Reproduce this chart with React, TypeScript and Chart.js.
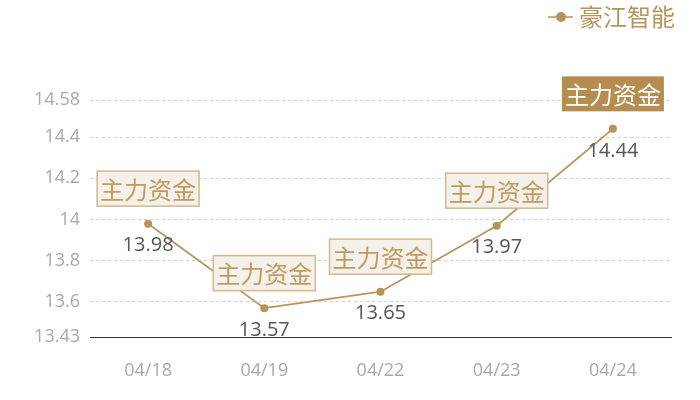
import { useEffect, useRef } from "react"
import { Chart, registerables } from "chart.js"
import type { Plugin } from "chart.js"

Chart.register(...registerables)

const categories = ["04/18", "04/19", "04/22", "04/23", "04/24"]
const prices = [13.98, 13.57, 13.65, 13.97, 14.44]
const yTicks = [13.43, 13.6, 13.8, 14, 14.2, 14.4, 14.58]
const seriesName = "豪江智能"
const flagLabels = ["主力资金", "主力资金", "主力资金", "主力资金", "主力资金"]
const flagHighlighted = [false, false, false, false, true]

const GOLD = "#b8935a"
const FONT = "'Open Sans', 'Noto Sans CJK SC', sans-serif"
const CJK_FONT = "'Noto Sans CJK SC', sans-serif"

const annotationPlugin: Plugin<"line"> = {
  id: "annotations",
  afterDatasetsDraw(chart) {
    const ctx = chart.ctx
    const meta = chart.getDatasetMeta(0)
    ctx.save()
    meta.data.forEach((pt, i) => {
      const { x, y } = pt.getProps(["x", "y"], true)

      // valeur sous le point
      ctx.font = `20px ${FONT}`
      ctx.fillStyle = "#555555"
      ctx.textAlign = "center"
      ctx.textBaseline = "middle"
      ctx.fillText(String(prices[i]), x, y + 22)

      // étiquette au-dessus
      ctx.font = `24px ${CJK_FONT}`
      const w = ctx.measureText(flagLabels[i]).width + 6
      const h = 35
      const cy = y - 35
      const left = x - w / 2
      const top = cy - h / 2
      if (flagHighlighted[i]) {
        ctx.fillStyle = "#b58e4f"
        ctx.fillRect(left, top, w, h)
        ctx.fillStyle = "#ffffff"
      } else {
        ctx.fillStyle = "#f4f0ea"
        ctx.fillRect(left, top, w, h)
        ctx.strokeStyle = "#d2b88e"
        ctx.lineWidth = 1.5
        ctx.strokeRect(left, top, w, h)
        ctx.fillStyle = "#c09a60"
      }
      ctx.fillText(flagLabels[i], x, cy + 1)
    })
    ctx.restore()
  },
  afterDraw(chart) {
    // légende en haut à droite
    const ctx = chart.ctx
    ctx.save()
    ctx.strokeStyle = GOLD
    ctx.lineWidth = 1.5
    ctx.beginPath()
    ctx.moveTo(548, 17)
    ctx.lineTo(573, 17)
    ctx.stroke()
    ctx.fillStyle = GOLD
    ctx.beginPath()
    ctx.arc(561, 17, 5, 0, Math.PI * 2)
    ctx.fill()
    ctx.font = `24px ${CJK_FONT}`
    ctx.textAlign = "left"
    ctx.textBaseline = "middle"
    ctx.fillText(seriesName, 579, 17)
    ctx.restore()
  },
}

export default function App() {
  const chartRef = useRef<HTMLCanvasElement>(null)
  const chartInstance = useRef<Chart | null>(null)

  useEffect(() => {
    if (!chartRef.current) return
    if (chartInstance.current) chartInstance.current.destroy()

    const ctx = chartRef.current.getContext("2d")
    if (!ctx) return

    chartInstance.current = new Chart(ctx, {
      type: "line",
      data: {
        labels: categories,
        datasets: [
          {
            label: seriesName,
            data: prices,
            borderColor: GOLD,
            backgroundColor: GOLD,
            borderWidth: 1.8,
            pointRadius: 4,
            pointBackgroundColor: GOLD,
            pointBorderWidth: 0,
            tension: 0,
          },
        ],
      },
      options: {
        responsive: false,
        animation: false,
        layout: {
          padding: { top: 100, right: 29, left: 0, bottom: 0 },
        },
        plugins: {
          legend: { display: false },
          tooltip: { enabled: false },
        },
        scales: {
          x: {
            offset: true,
            grid: { display: false, drawTicks: false },
            border: { display: true, color: "#333333", width: 1 },
            ticks: {
              color: "#a8a8a8",
              font: { family: FONT, size: 18 },
              padding: 23,
            },
            afterFit: (scale) => {
              scale.height = 63
            },
          },
          y: {
            min: 13.43,
            max: 14.58,
            afterBuildTicks: (scale) => {
              scale.ticks = yTicks.map((v) => ({ value: v }))
            },
            afterFit: (scale) => {
              scale.width = 90
            },
            grid: {
              drawTicks: false,
              color: (c) => (c.tick && c.tick.value === 13.43 ? "rgba(0,0,0,0)" : "#d0d0d0"),
            },
            border: { display: false, dash: [3, 3] },
            ticks: {
              color: "#a8a8a8",
              font: { family: FONT, size: 18 },
              padding: 10,
              callback: (value) => String(value),
            },
          },
        },
      },
      plugins: [annotationPlugin],
    })

    return () => {
      if (chartInstance.current) {
        chartInstance.current.destroy()
        chartInstance.current = null
      }
    }
  }, [])

  return (
    <div style={{ position: "fixed", left: 0, top: 0, width: 700, height: 400, background: "#fff" }}>
      <canvas ref={chartRef} width={700} height={400} />
    </div>
  )
}
